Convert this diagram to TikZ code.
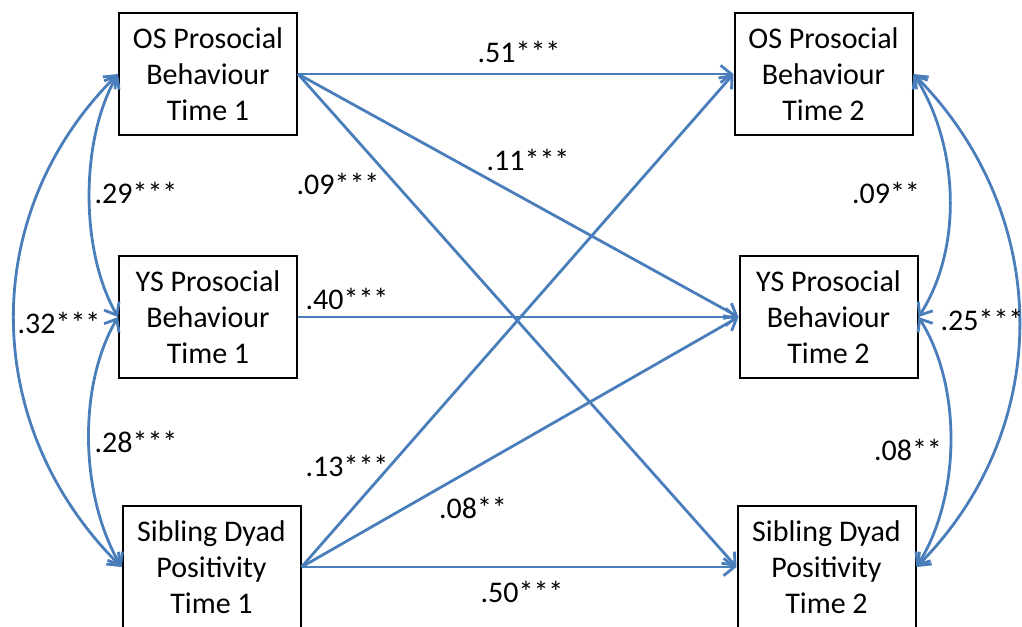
\documentclass[tikz,border=0pt]{standalone}
\usepackage{fontspec}
\setmainfont{Carlito}
\usetikzlibrary{arrows.meta}
\definecolor{pathblue}{HTML}{4A7EBB}

\begin{document}
\begin{tikzpicture}[x=0.75pt, y=-0.75pt,
  var/.style={draw, line width=1.5pt, minimum width=133.5pt, minimum height=91.5pt,
    align=center, inner sep=0pt, font=\fontsize{22.5}{27}\selectfont},
  link/.style={pathblue, line width=2.1pt, -{Straight Barb[length=8pt,width=13pt]}},
  corr/.style={pathblue, line width=2.1pt,
    {Straight Barb[length=8pt,width=13pt]}-{Straight Barb[length=8pt,width=13pt]}},
  coef/.style={font=\fontsize{22.5}{27}\selectfont, inner sep=0pt}]
  \clip (0,0) rectangle (1022,626);

  % time 1
  \node [var] (os1) at (208,74) {OS Prosocial\\Behaviour\\Time 1};
  \node [var] (ys1) at (208,317) {YS Prosocial\\Behaviour\\Time 1};
  \node [var] (sd1) at (211.5,567) {Sibling Dyad\\Positivity\\Time 1};

  % time 2
  \node [var] (os2) at (823.5,74) {OS Prosocial\\Behaviour\\Time 2};
  \node [var] (ys2) at (828.5,317) {YS Prosocial\\Behaviour\\Time 2};
  \node [var] (sd2) at (826.5,567) {Sibling Dyad\\Positivity\\Time 2};

  % paths
  \draw [link] (os1.east) -- (os2.west);
  \draw [link] (os1.east) -- (ys2.west);
  \draw [link] (os1.east) -- (sd2.west);
  \draw [link] (ys1.east) -- (ys2.west);
  \draw [link] (sd1.east) -- (os2.west);
  \draw [link] (sd1.east) -- (ys2.west);
  \draw [link] (sd1.east) -- (sd2.west);

  % correlations
  \draw [corr] (os1.west) .. controls +(-38,66) and +(-38,-66) .. (ys1.west);
  \draw [corr] (ys1.west) .. controls +(-41,70) and +(-41,-70) .. (sd1.west);
  \draw [corr] (os1.west) .. controls +(-141,140) and +(-141,-140) .. (sd1.west);
  \draw [corr] (os2.east) .. controls +(45,70) and +(45,-70) .. (ys2.east);
  \draw [corr] (ys2.east) .. controls +(44,70) and +(44,-70) .. (sd2.east);
  \draw [corr] (os2.east) .. controls +(139,140) and +(139,-140) .. (sd2.east);

  \node [coef] (c51) at (519,52) {.51***};
  \node [coef] (c11) at (528,160) {.11***};
  \node [coef] (c09a) at (338,184) {.09***};
  \node [coef] (c40) at (347,299) {.40***};
  \node [coef] (c13) at (347,466) {.13***};
  \node [coef] (c08a) at (473,508) {.08**};
  \node [coef] (c50) at (522,592) {.50***};
  \node [coef] (c29) at (136,193) {.29***};
  \node [coef] (c32) at (59,323) {.32***};
  \node [coef] (c28) at (136,442) {.28***};
  \node [coef] (c09b) at (886,193) {.09**};
  \node [coef] (c25) at (982,320) {.25***};
  \node [coef] (c08b) at (908,450) {.08**};
\end{tikzpicture}
\end{document}
